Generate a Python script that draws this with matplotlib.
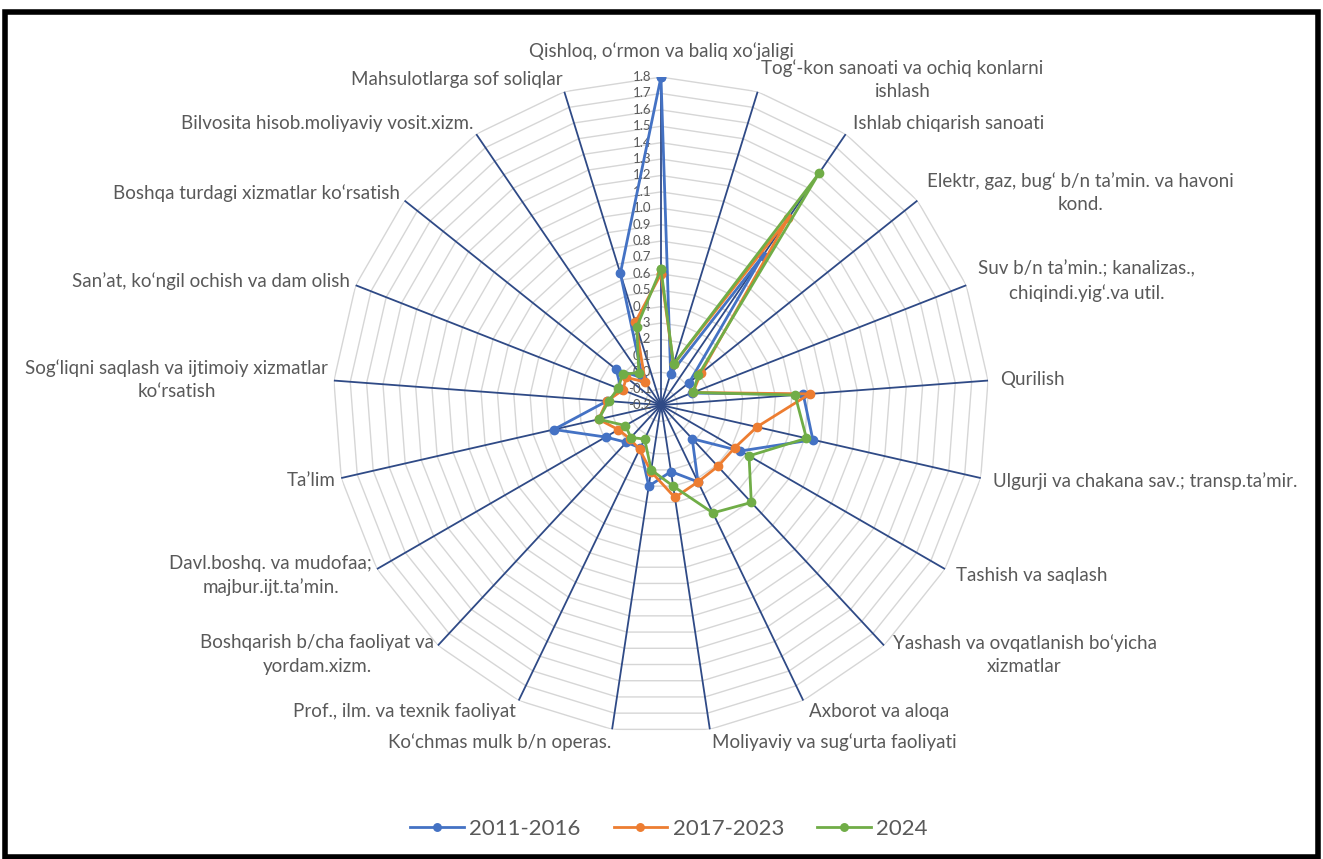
import numpy as np
import matplotlib
matplotlib.use("Agg")
import matplotlib.pyplot as plt
from matplotlib.patches import Rectangle

# categories, clockwise from the top
CATEGORIES = [
    "Qishloq, o‘rmon va baliq xo‘jaligi",
    "Tog‘-kon sanoati va ochiq konlarni\nishlash",
    "Ishlab chiqarish sanoati",
    "Elektr, gaz, bug‘ b/n ta’min. va havoni\nkond.",
    "Suv b/n ta’min.; kanalizas.,\nchiqindi.yig‘.va util.",
    "Qurilish",
    "Ulgurji va chakana sav.; transp.ta’mir.",
    "Tashish va saqlash",
    "Yashash va ovqatlanish bo‘yicha\nxizmatlar",
    "Axborot va aloqa",
    "Moliyaviy va sug‘urta faoliyati",
    "Ko‘chmas mulk b/n operas.",
    "Prof., ilm. va texnik faoliyat",
    "Boshqarish b/cha faoliyat va\nyordam.xizm.",
    "Davl.boshq. va mudofaa;\nmajbur.ijt.ta’min.",
    "Ta’lim",
    "Sog‘liqni saqlash va ijtimoiy xizmatlar\nko‘rsatish",
    "San’at, ko‘ngil ochish va dam olish",
    "Boshqa turdagi xizmatlar ko‘rsatish",
    "Bilvosita hisob.moliyaviy vosit.xizm.",
    "Mahsulotlarga sof soliqlar",
]

SERIES_NAMES = ["2011-2016", "2017-2023", "2024"]
VALS_2011_2016 = [1.80, 0.00, 0.90, 0.02, 0.00, 0.67, 0.75, 0.36, 0.08, 0.32, 0.21,
                  0.30, 0.09, 0.11, 0.19, 0.47, 0.13, 0.06, 0.15, 0.00, 0.64]
VALS_2017_2023 = [0.60, 0.06, 1.18, 0.11, 0.01, 0.71, 0.40, 0.32, 0.31, 0.32, 0.37,
                  0.21, 0.10, 0.08, 0.10, 0.19, 0.13, 0.05, 0.07, -0.03, 0.33]
VALS_2024 = [0.63, 0.06, 1.51, 0.09, 0.01, 0.62, 0.71, 0.42, 0.61, 0.53, 0.30,
             0.20, 0.03, 0.07, 0.05, 0.19, 0.12, 0.08, 0.10, 0.04, 0.30]

R_TICKS = [-0.2, -0.1, 0.0, 0.1, 0.2, 0.3, 0.4, 0.5, 0.6, 0.7, 0.8, 0.9,
           1.0, 1.1, 1.2, 1.3, 1.4, 1.5, 1.6, 1.7, 1.8]

COLORS = ["#4472C4", "#ED7D31", "#70AD47"]
FONT = ["Lato", "DejaVu Sans"]
TXT = "#595959"

plt.rcParams["font.family"] = FONT

fig = plt.figure(figsize=(13.23, 8.59), dpi=100)
ax = fig.add_axes([0.2517, 0.1466, 0.4958, 0.7637], projection="polar")
ax.set_theta_zero_location("N")
ax.set_theta_direction(-1)
ax.set_ylim(R_TICKS[0], R_TICKS[-1])
ax.grid(False)
ax.set_xticks([])
ax.set_yticks([])
ax.spines["polar"].set_visible(False)

n = len(CATEGORIES)
theta = np.linspace(0, 2 * np.pi, n, endpoint=False)
closed = np.append(theta, theta[0])

# polygon gridlines
for r in R_TICKS[1:]:
    ax.plot(closed, [r] * (n + 1), color="#D6D6D6", lw=1.0, zorder=1)

# spokes
for t in theta:
    ax.plot([t, t], [R_TICKS[0], R_TICKS[-1]], color="#2F4A86", lw=1.3, zorder=2)

# radial value labels along the top spoke
for r in R_TICKS:
    ax.annotate(f"{r:.1f}", xy=(0, r), xytext=(-7, 0), textcoords="offset points",
                ha="right", va="center", fontsize=9.5, color=TXT, zorder=2.5)

# series
for i, (name, vals) in enumerate(zip(SERIES_NAMES, [VALS_2011_2016, VALS_2017_2023, VALS_2024])):
    v = list(vals) + [vals[0]]
    ax.plot(closed, v, color=COLORS[i], lw=2.0, marker="o", ms=6,
            label=name, zorder=3 + i)

# category labels
for t, lab in zip(theta, CATEGORIES):
    s, c = np.sin(t), np.cos(t)
    ha = "left" if s > 0.05 else ("right" if s < -0.05 else "center")
    va = "bottom" if c > 0.999 else "center"
    dist = 12 if c > 0.999 else 9
    dx = dist * s * (0.45 if s < 0 else 1.0)
    ax.annotate(lab, xy=(t, R_TICKS[-1]), xytext=(dx, dist * c), textcoords="offset points",
                ha=ha, va=va, fontsize=13.5, color=TXT, multialignment="center",
                linespacing=1.45, annotation_clip=False)

fig.legend(loc="center", bbox_to_anchor=(669 / 1323, 0.035), ncol=3, frameon=False,
           fontsize=16, handlelength=2.4, handletextpad=0.25, columnspacing=1.5,
           markerscale=0.9, labelcolor=TXT)

# outer frame
fig.patches.append(Rectangle((5 / 1323, 2 / 859), 1313 / 1323, 845 / 859,
                             transform=fig.transFigure, fill=False,
                             edgecolor="black", lw=4))

fig.savefig("out.png", dpi=100)
